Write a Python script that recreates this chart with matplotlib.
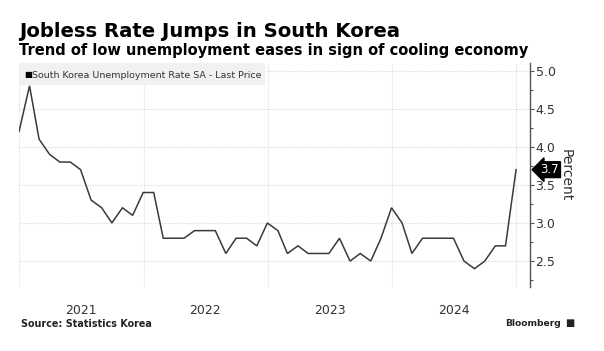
import numpy as np
import pandas as pd
import matplotlib
matplotlib.use("Agg")
from matplotlib import pyplot as plt

# monthly unemployment rate, SA, Dec 2020 .. Dec 2024
months = pd.date_range("2020-12-31", "2024-12-31", freq="ME")
rate = [4.2, 4.8, 4.1, 3.9, 3.8, 3.8, 3.7, 3.3, 3.2, 3.0, 3.2, 3.1,
        3.4, 3.4, 2.8, 2.8, 2.8, 2.9, 2.9, 2.9, 2.6, 2.8, 2.8, 2.7,
        3.0, 2.9, 2.6, 2.7, 2.6, 2.6, 2.6, 2.8, 2.5, 2.6, 2.5, 2.8,
        3.2, 3.0, 2.6, 2.8, 2.8, 2.8, 2.8, 2.5, 2.4, 2.5, 2.7, 2.7,
        3.7]
yticks = [2.5, 3.0, 3.5, 4.0, 4.5, 5.0]
years = [2021, 2022, 2023, 2024]

W, H = 604, 351
fig = plt.figure(figsize=(W / 100, H / 100), dpi=100)
fig.patch.set_facecolor("white")

def fx(px):
    return px / W

def fy(py):
    return 1 - py / H

ax = fig.add_axes([fx(19), fy(287), fx(530 - 19), fy(63) - fy(287)])
ax.plot(months, rate, color="#3a3a3a", lw=1.1, solid_joinstyle="miter")

ax.set_ylim(2.16, 5.1)
ax.set_xlim(months[0], months[-1] + pd.Timedelta(days=41))

for s in ["left", "top", "bottom"]:
    ax.spines[s].set_visible(False)
ax.spines["right"].set_color("#555555")
ax.spines["right"].set_linewidth(1.0)

ax.yaxis.tick_right()
ax.set_yticks(yticks)
ax.set_yticklabels([f"{v:.1f}" for v in yticks])
ax.set_yticks(np.arange(2.25, 5.1, 0.5), minor=True)
ax.tick_params(axis="y", which="major", length=3, width=0.8, color="#555555",
               labelsize=9, labelcolor="#333333", pad=1)
ax.tick_params(axis="y", which="minor", length=2, width=0.8, color="#555555")
ax.yaxis.grid(True, which="major", color="#dcdcdc", lw=0.8, ls=(0, (1, 1)))

# year boundaries as grid, labels centred in each year
ax.set_xticks([pd.Timestamp(f"{y}-01-01") for y in years + [2025]])
ax.set_xticks([pd.Timestamp(f"{y}-07-02") for y in years], minor=True)
ax.set_xticklabels([], minor=False)
ax.set_xticklabels([str(y) for y in years], minor=True)
ax.tick_params(axis="x", which="major", length=0)
ax.tick_params(axis="x", which="minor", length=0, labelsize=9,
               labelcolor="#333333", pad=12)
ax.xaxis.grid(True, which="major", color="#e0e0e0", lw=0.8, ls=(0, (1, 1)))
ax.set_axisbelow(True)

ax.set_ylabel("Percent", rotation=270, fontsize=10, color="#333333", labelpad=12)
ax.yaxis.set_label_position("right")

# last value badge
ax.annotate(f"{rate[-1]:.1f}", xy=(1.0, rate[-1]), xycoords=("axes fraction", "data"),
            xytext=(7.5, 0), textcoords="offset points", ha="left", va="center",
            fontsize=8.5, color="white",
            bbox=dict(boxstyle="larrow,pad=0.12", fc="black", ec="black"))

# legend strip
fig.patches.append(plt.Rectangle((fx(19), fy(85)), fx(265 - 19), fy(63) - fy(85),
                                 transform=fig.transFigure, fc="#f1f1f1", ec="none", zorder=0))
fig.text(fx(24), fy(75), "\u25a0", fontsize=6, color="black", va="center")
fig.text(fx(32), fy(75), "South Korea Unemployment Rate SA - Last Price",
         fontsize=6.8, color="#333333", va="center")

fig.text(fx(19), fy(37), "Jobless Rate Jumps in South Korea", fontsize=14.1,
         fontweight="bold", color="black", va="baseline")
fig.text(fx(19), fy(55), "Trend of low unemployment eases in sign of cooling economy",
         fontsize=10.5, fontweight="bold", color="black", va="baseline")
fig.text(fx(21), fy(327), "Source: Statistics Korea", fontsize=6.9,
         fontweight="bold", color="#222222", va="baseline")
fig.text(fx(561), fy(326), "Bloomberg", fontsize=6.6, fontweight="bold",
         color="#222222", va="baseline", ha="right")
fig.text(fx(565), fy(326), "\u25a0", fontsize=7, color="#222222", va="baseline")

fig.savefig("out.png", dpi=100)
